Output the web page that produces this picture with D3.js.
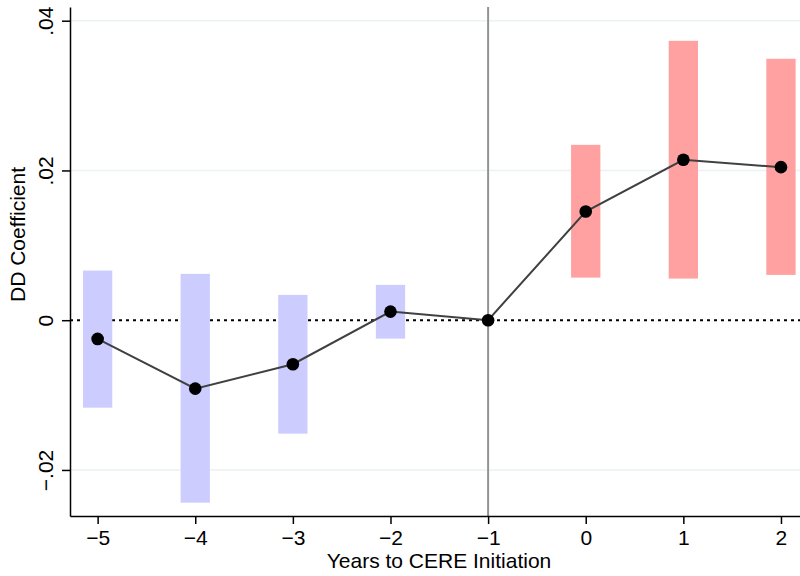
<!DOCTYPE html>
<html>
<head>
<meta charset="utf-8">
<script src="https://cdn.jsdelivr.net/npm/d3@7"></script>
<style>
  html, body { margin: 0; padding: 0; background: #fff; }
  svg { display: block; font-family: "Liberation Sans", Arial, Helvetica, sans-serif; }
</style>
</head>
<body>
<svg id="chart" width="800" height="576"></svg>
<script>
// Data
const years = [-5, -4, -3, -2, -1, 0, 1, 2];
const coef  = [-0.0025, -0.00914, -0.00588, 0.00115, 0, 0.01451, 0.02142, 0.02044];
const ciLow = [-0.01168, -0.02437, -0.01515, -0.00246, null, 0.00569, 0.00556, 0.00605];
const ciHigh= [0.00663, 0.00619, 0.00338, 0.00472, null, 0.02342, 0.03731, 0.03491];
const xTicks = [-5, -4, -3, -2, -1, 0, 1, 2];
const yTicks = [-0.02, 0, 0.02, 0.04];
const yTickLabels = ["-.02", "0", ".02", ".04"];
const xTitle = "Years to CERE Initiation";
const yTitle = "DD Coefficient";

const svg = d3.select("#chart");
const m = { left: 70, right: 0, top: 7, bottom: 60 };
const W = 800, H = 576;

const x = d3.scaleLinear().domain([-5.283, 2.195]).range([m.left, W - m.right]);
const y = d3.scaleLinear().domain([-0.02615, 0.04183]).range([H - m.bottom, m.top]);

// gridlines
svg.append("g").selectAll("line").data(yTicks.filter(v => v !== 0)).join("line")
  .attr("x1", m.left).attr("x2", W - m.right)
  .attr("y1", d => y(d)).attr("y2", d => y(d))
  .attr("stroke", "#eaf2f3").attr("stroke-width", 1.5);

// zero dotted line
svg.append("line")
  .attr("x1", m.left).attr("x2", W - m.right)
  .attr("y1", y(0)).attr("y2", y(0))
  .attr("stroke", "#000").attr("stroke-width", 2).attr("stroke-dasharray", "3,4");

// CI bars
const bw = x(0.3) - x(0);
const barData = years.map((yr, i) => ({ yr, lo: ciLow[i], hi: ciHigh[i] })).filter(d => d.lo !== null);
svg.append("g").selectAll("rect").data(barData).join("rect")
  .attr("x", d => x(d.yr) - bw / 2)
  .attr("width", bw)
  .attr("y", d => y(d.hi))
  .attr("height", d => y(d.lo) - y(d.hi))
  .attr("fill", d => d.yr < -1 ? "#ccccff" : "#ffa1a1");

// vertical reference line at -1
svg.append("line")
  .attr("x1", x(-1)).attr("x2", x(-1))
  .attr("y1", m.top).attr("y2", H - m.bottom)
  .attr("stroke", "#929292").attr("stroke-width", 2);

// connecting line
const pts = years.map((yr, i) => [yr, coef[i]]);
svg.append("path").datum(pts)
  .attr("fill", "none").attr("stroke", "#404040").attr("stroke-width", 2)
  .attr("d", d3.line().x(d => x(d[0])).y(d => y(d[1])));

// points
svg.append("g").selectAll("circle").data(pts).join("circle")
  .attr("cx", d => x(d[0])).attr("cy", d => y(d[1])).attr("r", 6.3)
  .attr("fill", "#000");

// axes
const xAxis = d3.axisBottom(x).tickValues(xTicks).tickSize(8).tickSizeOuter(0)
  .tickFormat(d => d < 0 ? "\u2212" + Math.abs(d) : String(d));
const gx = svg.append("g").attr("transform", `translate(0,${H - m.bottom})`).call(xAxis);
gx.select(".domain").attr("stroke", "#000").attr("stroke-width", 1.5);
gx.selectAll(".tick line").attr("stroke", "#000").attr("stroke-width", 1.5);
gx.selectAll(".tick text").attr("font-size", 21).attr("fill", "#000").attr("dy", "0.93em").attr("y", 9);

const yAxis = d3.axisLeft(y).tickValues(yTicks).tickSize(8).tickSizeOuter(0)
  .tickFormat((d, i) => yTickLabels[i].replace("-", "\u2212"));
const gy = svg.append("g").attr("transform", `translate(${m.left},0)`).call(yAxis);
gy.select(".domain").attr("stroke", "#000").attr("stroke-width", 1.5);
gy.selectAll(".tick line").attr("stroke", "#000").attr("stroke-width", 1.5);
gy.selectAll(".tick text")
  .attr("font-size", 21).attr("fill", "#000")
  .attr("text-anchor", "middle")
  .attr("x", null).attr("dy", null)
  .attr("transform", "translate(-17,0) rotate(-90)");

// titles
svg.append("text")
  .attr("x", (m.left + W) / 2 + 4).attr("y", 568)
  .attr("text-anchor", "middle").attr("font-size", 21).attr("fill", "#000")
  .text(xTitle);
svg.append("text")
  .attr("transform", `translate(25,${(m.top + H - m.bottom) / 2 - 27}) rotate(-90)`)
  .attr("text-anchor", "middle").attr("font-size", 21).attr("fill", "#000")
  .text(yTitle);
</script>
</body>
</html>
